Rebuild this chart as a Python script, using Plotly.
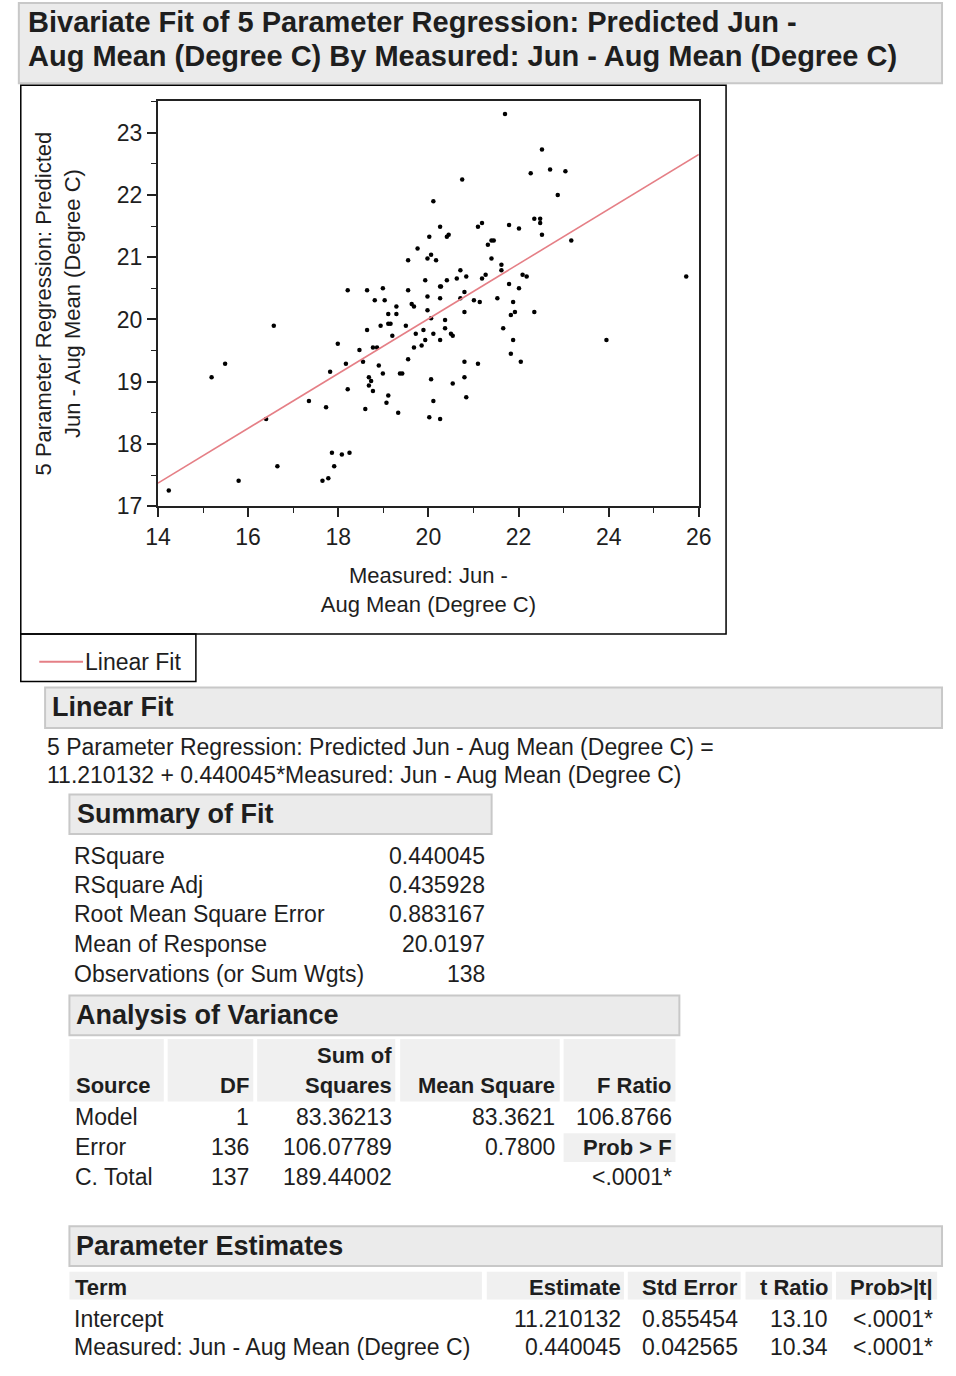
import plotly.graph_objects as go

# ---------------- data ----------------
measured = [18.21, 18.64, 18.99, 19.55, 19.76, 19.55, 18.81, 19.03, 19.29, 19.63,
            19.68, 20.11, 20.26, 20.02, 20.06, 19.98, 20.17, 19.93, 19.98, 19.98,
            19.11, 19.29, 20.26, 20.26, 21.70, 22.52, 20.75, 22.27, 22.70, 23.04,
            22.87, 20.41, 20.45, 21.10, 21.19, 21.79, 22.01, 22.35, 22.48, 22.48,
            22.52, 23.17, 21.32, 21.40, 21.45, 21.40, 21.62, 21.62, 20.71, 22.09,
            22.18, 20.41, 20.28, 20.63, 20.84, 21.19, 21.27, 21.79, 22.01, 25.72,
            20.71, 20.80, 21.01, 21.14, 21.53, 21.88, 20.80, 21.83, 21.92, 22.35,
            16.57, 18.64, 18.94, 19.11, 19.16, 19.50, 19.20, 19.72, 19.89, 19.93,
            17.99, 18.47, 18.77, 18.86, 19.68, 19.85, 15.49, 15.19, 18.17, 18.55,
            17.82, 18.90, 19.55, 18.68, 18.73, 18.68, 18.99, 19.37, 19.42, 18.21,
            18.77, 19.11, 19.07, 17.35, 17.73, 18.60, 19.33, 16.40, 17.86, 18.08,
            18.25, 16.65, 17.91, 17.65, 17.78, 15.79, 14.24, 20.06, 20.11, 20.26,
            20.06, 20.02, 20.11, 20.26, 20.37, 20.37, 20.50, 20.54, 21.66, 21.88,
            23.95, 20.80, 21.10, 21.83, 22.05, 20.54, 20.80, 20.84]
predicted = [20.47, 20.47, 20.50, 20.47, 21.14, 20.95, 20.31, 20.31, 20.21, 20.25,
             20.21, 21.90, 21.49, 21.33, 21.04, 20.98, 20.95, 20.63, 20.37, 20.15,
             20.09, 20.09, 20.53, 20.34, 23.30, 22.73, 22.25, 22.35, 22.41, 22.38,
             22.00, 21.33, 21.36, 21.49, 21.55, 21.52, 21.46, 21.62, 21.62, 21.55,
             21.36, 21.27, 21.20, 21.27, 21.27, 20.98, 20.88, 20.79, 20.79, 20.72,
             20.69, 20.63, 20.53, 20.66, 20.69, 20.66, 20.72, 20.57, 20.50, 20.69,
             20.34, 20.44, 20.31, 20.28, 20.34, 20.28, 20.12, 20.07, 20.12, 20.12,
             19.90, 19.83, 19.90, 19.93, 19.93, 19.90, 19.74, 19.77, 19.83, 19.67,
             19.61, 19.51, 19.55, 19.55, 19.55, 19.58, 19.29, 19.07, 19.29, 19.32,
             19.16, 19.26, 19.36, 19.07, 19.01, 18.94, 19.13, 19.13, 19.13, 18.88,
             18.85, 18.78, 18.66, 18.69, 18.59, 18.56, 18.50, 18.40, 17.86, 17.83,
             17.86, 17.64, 17.64, 17.41, 17.45, 17.41, 17.25, 20.02, 19.77, 19.67,
             19.04, 18.43, 18.69, 18.40, 19.99, 19.86, 19.77, 19.74, 19.86, 19.67,
             19.67, 19.32, 19.29, 19.45, 19.32, 18.97, 19.07, 18.75]

intercept = 11.210132
slope = 0.440045
x_range = [14, 26]
y_range = [17, 23.51]
x_ticks = [14, 16, 18, 20, 22, 24, 26]
y_ticks = [17, 18, 19, 20, 21, 22, 23]
x_title = "Measured: Jun -<br>Aug Mean (Degree C)"
y_title = "5 Parameter Regression: Predicted<br>Jun - Aug Mean (Degree C)"

summary_labels = ["RSquare", "RSquare Adj", "Root Mean Square Error",
                  "Mean of Response", "Observations (or Sum Wgts)"]
summary_values = ["0.440045", "0.435928", "0.883167", "20.0197", "138"]

anova_source = ["Model", "Error", "C. Total"]
anova_df = ["1", "136", "137"]
anova_ss = ["83.36213", "106.07789", "189.44002"]
anova_ms = ["83.3621", "0.7800", ""]
anova_f = ["106.8766", "", "<.0001*"]

param_terms = ["Intercept", "Measured: Jun - Aug Mean (Degree C)"]
param_est = ["11.210132", "0.440045"]
param_se = ["0.855454", "0.042565"]
param_t = ["13.10", "10.34"]
param_p = ["<.0001*", "<.0001*"]

# ---------------- helpers ----------------
W, H = 956, 1376
FONT = "Liberation Sans, Arial, sans-serif"
TXT = "#1e1e1e"
FIT_COLOR = "#e57f86"


def px(x):
    return x / W


def py(y):
    return 1 - y / H


shapes = []
annots = []


def rect(x0, y0, x1, y1, fill="rgba(0,0,0,0)", line="black", lw=1.5, layer="below"):
    shapes.append(dict(type="rect", xref="paper", yref="paper",
                       x0=px(x0), x1=px(x1), y0=py(y1), y1=py(y0),
                       fillcolor=fill, line=dict(color=line, width=lw), layer=layer))


def text(x, y, s, size=23, bold=False, anchor="left"):
    if bold:
        s = "<b>" + s + "</b>"
    annots.append(dict(xref="paper", yref="paper", x=px(x), y=py(y), text=s,
                       showarrow=False, xanchor=anchor, yanchor="middle",
                       borderpad=0,
                       font=dict(family=FONT, size=size, color=TXT)))


HDR_FILL = "#ebebeb"
HDR_LINE = "#c8c8c8"
CELL_FILL = "#f0f0f0"

# ---------------- figure ----------------
fig = go.Figure()
fig.add_trace(go.Scatter(x=measured, y=predicted, mode="markers",
                         marker=dict(color="black", size=4.5, symbol="circle"),
                         showlegend=False, hoverinfo="x+y"))
fit_y = [intercept + slope * v for v in x_range]
fig.add_trace(go.Scatter(x=x_range, y=fit_y, mode="lines",
                         line=dict(color=FIT_COLOR, width=1.6),
                         showlegend=False, name="Linear Fit"))

# title header
rect(6, 3, 955, 84, fill=HDR_FILL, line=HDR_LINE, lw=2)
text(14, 22, "Bivariate Fit of 5 Parameter Regression: Predicted Jun -", size=29, bold=True)
text(14, 57, "Aug Mean (Degree C) By Measured: Jun - Aug Mean (Degree C)", size=29, bold=True)

# plot frame and legend frame
rect(8, 86, 733, 640, line="black", lw=1.5, layer="above")
rect(8, 640, 188, 688, line="black", lw=1.5, layer="above")
shapes.append(dict(type="line", xref="paper", yref="paper",
                   x0=px(27), x1=px(72), y0=py(668), y1=py(668),
                   line=dict(color=FIT_COLOR, width=2)))
text(73, 668, "Linear Fit", size=23)

# Linear Fit section
rect(33, 694, 955, 735, fill=HDR_FILL, line=HDR_LINE, lw=2)
text(39, 714, "Linear Fit", size=27, bold=True)
text(34, 754, "5 Parameter Regression: Predicted Jun - Aug Mean (Degree C) =", size=23)
text(34, 782, "11.210132 + 0.440045*Measured: Jun - Aug Mean (Degree C)", size=23)

# Summary of Fit
rect(58, 802, 492, 842, fill=HDR_FILL, line=HDR_LINE, lw=2)
text(65, 822, "Summary of Fit", size=27, bold=True)
sum_rows_y = [864, 893, 923, 953, 983]
for lab, val, yy in zip(summary_labels, summary_values, sum_rows_y):
    text(62, yy, lab, size=23)
    text(486, yy, val, size=23, anchor="right")

# Analysis of Variance
rect(58, 1005, 685, 1045, fill=HDR_FILL, line=HDR_LINE, lw=2)
text(64, 1025, "Analysis of Variance", size=27, bold=True)
for (a, b) in [(58, 155), (159, 247), (251, 393), (398, 562), (566, 681)]:
    rect(a, 1049, b, 1112, fill=CELL_FILL, line="rgba(0,0,0,0)", lw=0)
rect(566, 1144, 681, 1173, fill=CELL_FILL, line="rgba(0,0,0,0)", lw=0)
text(64, 1096, "Source", size=22, bold=True)
text(244, 1096, "DF", size=22, bold=True, anchor="right")
text(391, 1066, "Sum of", size=22, bold=True, anchor="right")
text(391, 1096, "Squares", size=22, bold=True, anchor="right")
text(558, 1096, "Mean Square", size=22, bold=True, anchor="right")
text(678, 1096, "F Ratio", size=22, bold=True, anchor="right")
anova_y = [1128, 1158, 1188]
for i, yy in enumerate(anova_y):
    text(63, yy, anova_source[i], size=23)
    text(244, yy, anova_df[i], size=23, anchor="right")
    text(391, yy, anova_ss[i], size=23, anchor="right")
    if anova_ms[i]:
        text(558, yy, anova_ms[i], size=23, anchor="right")
    if anova_f[i]:
        text(678, yy, anova_f[i], size=23, anchor="right")
text(678, 1158, "Prob > F", size=22, bold=True, anchor="right")

# Parameter Estimates
rect(58, 1238, 955, 1278, fill=HDR_FILL, line=HDR_LINE, lw=2)
text(64, 1258, "Parameter Estimates", size=27, bold=True)
for (a, b) in [(58, 482), (487, 628), (632, 748), (753, 842), (846, 950)]:
    rect(a, 1284, b, 1312, fill=CELL_FILL, line="rgba(0,0,0,0)", lw=0)
text(63, 1300, "Term", size=22, bold=True)
text(626, 1300, "Estimate", size=22, bold=True, anchor="right")
text(746, 1300, "Std Error", size=22, bold=True, anchor="right")
text(839, 1300, "t Ratio", size=22, bold=True, anchor="right")
text(947, 1300, "Prob>|t|", size=22, bold=True, anchor="right")
param_y = [1332, 1360]
for i, yy in enumerate(param_y):
    text(62, yy, param_terms[i], size=23)
    text(626, yy, param_est[i], size=23, anchor="right")
    text(746, yy, param_se[i], size=23, anchor="right")
    text(839, yy, param_t[i], size=23, anchor="right")
    text(947, yy, param_p[i], size=23, anchor="right")

fig.update_layout(
    width=W, height=H,
    margin=dict(l=0, r=0, t=0, b=0),
    paper_bgcolor="white", plot_bgcolor="white",
    font=dict(family=FONT, color=TXT),
    shapes=shapes, annotations=annots,
    showlegend=False,
    xaxis=dict(domain=[px(149), px(705)], range=x_range, tickvals=x_ticks,
               ticks="outside", ticklen=9, tickwidth=1.5, tickcolor="#222",
               minor=dict(dtick=1, tick0=14, ticks="outside", ticklen=5,
                          tickwidth=1.2, tickcolor="#222", showgrid=False),
               showline=True, mirror=True, linecolor="#222", linewidth=2,
               showgrid=False, zeroline=False,
               title=dict(text=x_title, standoff=19,
                          font=dict(family=FONT, size=22, color=TXT)),
               tickfont=dict(family=FONT, size=23, color=TXT)),
    yaxis=dict(domain=[py(511), py(102)], range=y_range, tickvals=y_ticks,
               ticks="outside", ticklen=9, tickwidth=1.5, tickcolor="#222",
               minor=dict(dtick=0.5, tick0=17, ticks="outside", ticklen=5,
                          tickwidth=1.2, tickcolor="#222", showgrid=False),
               showline=True, mirror=True, linecolor="#222", linewidth=2,
               showgrid=False, zeroline=False,
               title=dict(text=y_title, standoff=30,
                          font=dict(family=FONT, size=22, color=TXT)),
               tickfont=dict(family=FONT, size=23, color=TXT)),
)

fig.write_html(
    "out.html",
    config={"displayModeBar": False},
    post_script="document.body.style.margin='0';document.body.style.overflow='hidden';",
)
